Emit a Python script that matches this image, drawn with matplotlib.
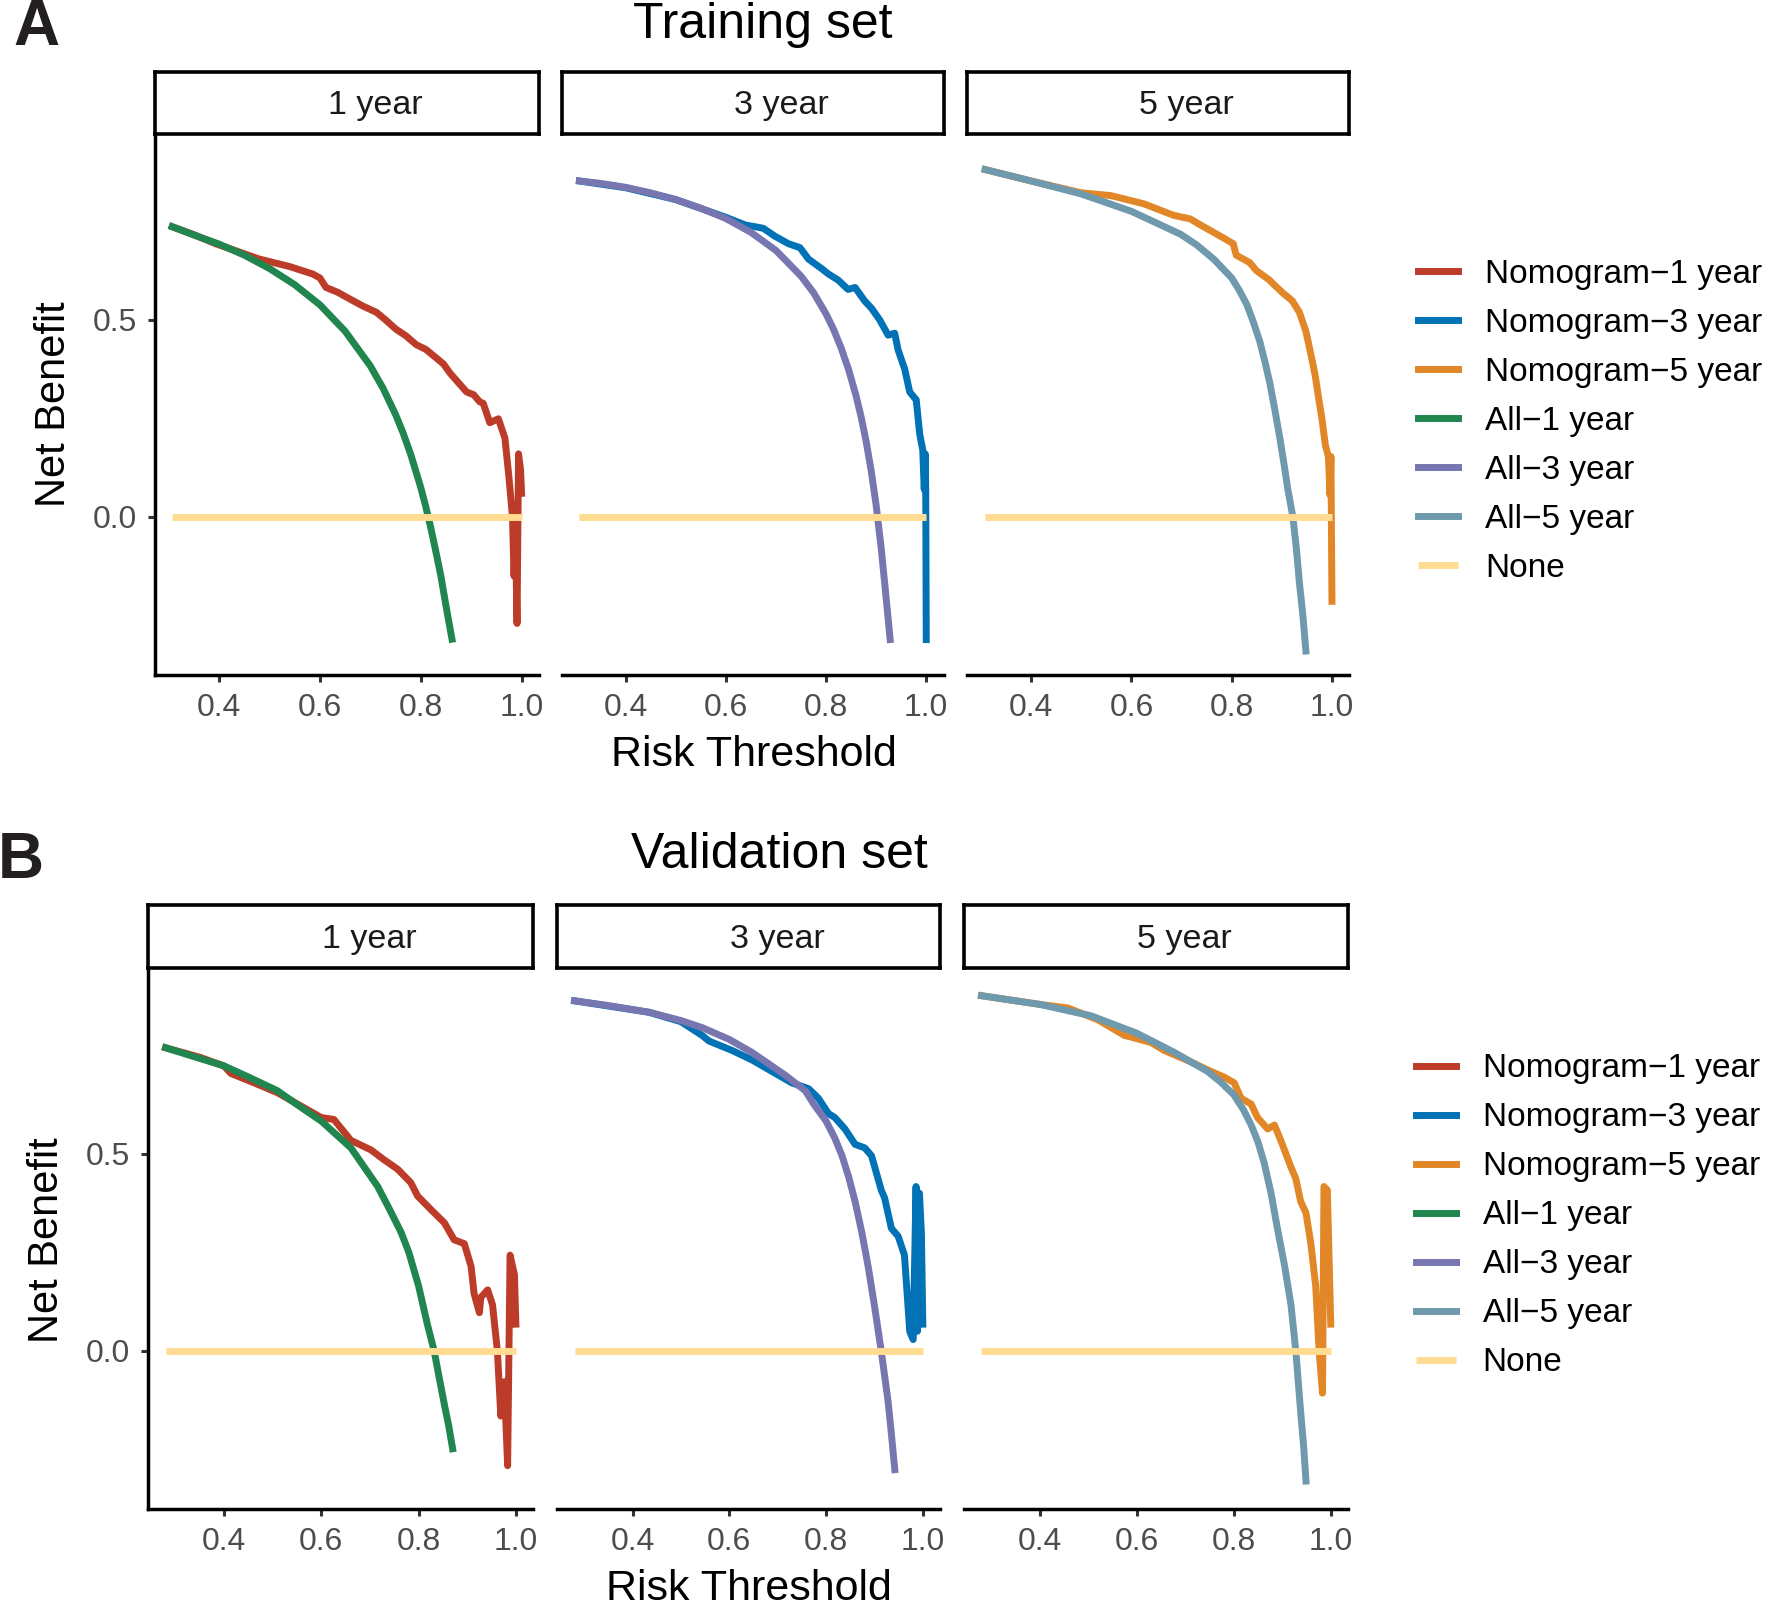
import matplotlib
matplotlib.use("Agg")
import matplotlib.pyplot as plt

plt.rcParams['font.family'] = ['Liberation Sans', 'DejaVu Sans']

# series / facet names
series_labels = ['Nomogram\u22121 year', 'Nomogram\u22123 year', 'Nomogram\u22125 year',
                 'All\u22121 year', 'All\u22123 year', 'All\u22125 year', 'None']
series_colors = ['#BC3C29', '#0072B5', '#E18727', '#20854E', '#7876B1', '#6F99AD', '#FFDC91']
facet_labels = ['1 year', '3 year', '5 year']
x_ticks = [0.4, 0.6, 0.8, 1.0]
x_ticklabels = ['0.4', '0.6', '0.8', '1.0']
y_ticks = [0.0, 0.5]
y_ticklabels = ['0.0', '0.5']

# ---------------- training set ----------------
train_nomo1_x = [0.307, 0.35, 0.393, 0.44, 0.48, 0.54, 0.586, 0.60, 0.612, 0.635, 0.659, 0.685, 0.712,
                 0.73, 0.751, 0.77, 0.791, 0.81, 0.831, 0.845, 0.858, 0.875, 0.891, 0.905, 0.917, 0.924,
                 0.937, 0.954, 0.967, 0.975, 0.982, 0.985, 0.988, 0.991, 0.994, 0.998, 1.0]
train_nomo1_y = [0.736, 0.716, 0.693, 0.672, 0.654, 0.635, 0.616, 0.606, 0.582, 0.570, 0.553, 0.535, 0.519,
                 0.500, 0.476, 0.460, 0.437, 0.425, 0.403, 0.388, 0.365, 0.340, 0.317, 0.310, 0.292, 0.288,
                 0.239, 0.249, 0.200, 0.100, 0.0, -0.15, -0.05, -0.27, 0.16, 0.12, 0.06]
train_all1_x = [0.307, 0.35, 0.40, 0.45, 0.50, 0.55, 0.60, 0.65, 0.70, 0.725, 0.75, 0.765, 0.78, 0.80,
                0.81, 0.82, 0.83, 0.84, 0.85, 0.862]
train_all1_y = [0.736, 0.715, 0.692, 0.664, 0.630, 0.589, 0.538, 0.471, 0.383, 0.327, 0.260, 0.213, 0.159,
                0.075, 0.026, -0.028, -0.088, -0.150, -0.225, -0.310]

train_nomo3_x = [0.308, 0.40, 0.50, 0.60, 0.64, 0.659, 0.675, 0.698, 0.725, 0.748, 0.765, 0.791, 0.805,
                 0.824, 0.844, 0.858, 0.877, 0.891, 0.907, 0.924, 0.937, 0.944, 0.957, 0.967, 0.980, 0.987,
                 0.993, 0.996, 0.998, 0.999, 1.0]
train_nomo3_y = [0.852, 0.835, 0.805, 0.760, 0.740, 0.736, 0.732, 0.712, 0.693, 0.683, 0.654, 0.630, 0.616,
                 0.601, 0.577, 0.582, 0.548, 0.529, 0.500, 0.461, 0.466, 0.423, 0.375, 0.317, 0.297, 0.210,
                 0.170, 0.070, 0.160, 0.060, -0.311]
train_all3_x = [0.308, 0.35, 0.40, 0.45, 0.50, 0.55, 0.60, 0.65, 0.70, 0.75, 0.775, 0.80, 0.815, 0.83,
                0.845, 0.86, 0.87, 0.88, 0.89, 0.90, 0.91, 0.918, 0.928]
train_all3_y = [0.852, 0.846, 0.836, 0.822, 0.805, 0.783, 0.757, 0.722, 0.676, 0.611, 0.569, 0.515, 0.476,
                0.429, 0.374, 0.307, 0.254, 0.192, 0.118, 0.030, -0.078, -0.180, -0.311]

train_nomo5_x = [0.308, 0.40, 0.50, 0.559, 0.625, 0.684, 0.717, 0.737, 0.783, 0.803, 0.809, 0.836, 0.849,
                 0.875, 0.882, 0.902, 0.921, 0.935, 0.948, 0.961, 0.967, 0.974, 0.980, 0.987, 0.993, 0.996,
                 0.998, 1.0]
train_nomo5_y = [0.881, 0.852, 0.822, 0.815, 0.794, 0.765, 0.756, 0.741, 0.708, 0.693, 0.664, 0.645, 0.625,
                 0.601, 0.592, 0.568, 0.548, 0.519, 0.471, 0.394, 0.355, 0.297, 0.249, 0.181, 0.153, 0.056,
                 0.153, -0.214]
train_all5_x = [0.308, 0.40, 0.50, 0.60, 0.698, 0.73, 0.764, 0.80, 0.815, 0.83, 0.843, 0.856, 0.866,
                0.876, 0.886, 0.896, 0.904, 0.912, 0.922, 0.929, 0.935, 0.942, 0.948]
train_all5_y = [0.881, 0.852, 0.819, 0.775, 0.717, 0.690, 0.654, 0.606, 0.575, 0.539, 0.495, 0.445, 0.395,
                0.340, 0.272, 0.200, 0.137, 0.070, 0.0, -0.080, -0.166, -0.250, -0.340]
train_none_x = [0.307, 1.0]
train_none_y = [0.0, 0.0]

# ---------------- validation set ----------------
val_nomo1_x = [0.28, 0.35, 0.40, 0.414, 0.462, 0.51, 0.60, 0.626, 0.661, 0.702, 0.729, 0.757, 0.784,
               0.798, 0.825, 0.853, 0.873, 0.894, 0.908, 0.914, 0.925, 0.928, 0.942, 0.952, 0.962, 0.969,
               0.976, 0.983, 0.988, 0.997, 1.0]
val_nomo1_y = [0.769, 0.745, 0.723, 0.704, 0.680, 0.655, 0.592, 0.587, 0.534, 0.510, 0.485, 0.461, 0.427,
               0.393, 0.359, 0.325, 0.282, 0.272, 0.214, 0.146, 0.097, 0.136, 0.155, 0.117, 0.0, -0.165,
               -0.078, -0.291, 0.243, 0.194, 0.068]
val_all1_x = [0.28, 0.35, 0.40, 0.45, 0.51, 0.55, 0.60, 0.661, 0.716, 0.74, 0.764, 0.78, 0.80, 0.818,
              0.832, 0.842, 0.853, 0.862, 0.87]
val_all1_y = [0.769, 0.742, 0.723, 0.695, 0.660, 0.625, 0.583, 0.515, 0.417, 0.360, 0.301, 0.250, 0.165,
              0.068, 0.0, -0.065, -0.136, -0.190, -0.248]

val_nomo3_x = [0.28, 0.434, 0.50, 0.544, 0.558, 0.606, 0.647, 0.688, 0.729, 0.764, 0.784, 0.805, 0.818,
               0.839, 0.86, 0.88, 0.894, 0.914, 0.921, 0.935, 0.949, 0.962, 0.973, 0.980, 0.986, 0.989,
               0.993, 0.997, 1.0]
val_nomo3_y = [0.888, 0.859, 0.835, 0.800, 0.786, 0.762, 0.738, 0.709, 0.680, 0.665, 0.641, 0.602, 0.592,
               0.563, 0.524, 0.515, 0.495, 0.408, 0.388, 0.311, 0.291, 0.243, 0.049, 0.029, 0.417, 0.050,
               0.400, 0.300, 0.068]
val_all3_x = [0.28, 0.35, 0.434, 0.50, 0.544, 0.60, 0.647, 0.716, 0.757, 0.775, 0.80, 0.818, 0.833, 0.847,
              0.86, 0.874, 0.887, 0.90, 0.914, 0.928, 0.935, 0.942]
val_all3_y = [0.888, 0.876, 0.859, 0.838, 0.820, 0.790, 0.757, 0.699, 0.660, 0.625, 0.583, 0.540, 0.495,
              0.440, 0.379, 0.300, 0.214, 0.115, 0.0, -0.126, -0.210, -0.301]

val_nomo5_x = [0.28, 0.40, 0.458, 0.52, 0.575, 0.589, 0.63, 0.657, 0.712, 0.753, 0.781, 0.801, 0.815,
               0.836, 0.849, 0.87, 0.884, 0.897, 0.918, 0.928, 0.938, 0.949, 0.959, 0.969, 0.976, 0.983,
               0.986, 0.993, 0.997, 1.0]
val_nomo5_y = [0.901, 0.879, 0.870, 0.840, 0.800, 0.796, 0.782, 0.762, 0.733, 0.709, 0.694, 0.680, 0.641,
               0.626, 0.592, 0.563, 0.573, 0.534, 0.466, 0.437, 0.379, 0.350, 0.272, 0.165, 0.0, -0.107,
               0.417, 0.408, 0.214, 0.068]
val_all5_x = [0.28, 0.40, 0.506, 0.60, 0.678, 0.746, 0.773, 0.80, 0.82, 0.836, 0.85, 0.863, 0.877, 0.89,
              0.905, 0.918, 0.928, 0.938, 0.944, 0.949]
val_all5_y = [0.901, 0.879, 0.850, 0.806, 0.757, 0.709, 0.682, 0.650, 0.612, 0.573, 0.530, 0.476, 0.400,
              0.311, 0.215, 0.117, 0.0, -0.155, -0.240, -0.330]
val_none_x = [0.28, 1.0]
val_none_y = [0.0, 0.0]

# layout helpers (reference measured on a 1568 x 1422 grid)
W, H = 1568.0, 1422.0
def fx(x):
    return x / W
def fy(y):
    return 1 - y / H

LW = 5.0
fig = plt.figure(figsize=(17.72, 16.07), dpi=100)


def draw_set(nomo, treat_all, none, xlim, lefts, rights, top, bottom, strip_top):
    nomo_h, all_h = [], []
    none_h = None
    for i in range(3):
        ax = fig.add_axes([fx(lefts[i]), fy(bottom), fx(rights[i]) - fx(lefts[i]), fy(top) - fy(bottom)])
        h1, = ax.plot(nomo[i][0], nomo[i][1], color=series_colors[i], lw=LW)
        h2, = ax.plot(treat_all[i][0], treat_all[i][1], color=series_colors[3 + i], lw=LW)
        h3, = ax.plot(none[0], none[1], color=series_colors[6], lw=LW, solid_capstyle='butt')
        nomo_h.append(h1)
        all_h.append(h2)
        none_h = h3
        ax.set_xlim(xlim)
        ax.set_ylim(-0.40, 0.97)
        ax.set_xticks(x_ticks)
        ax.set_xticklabels(x_ticklabels)
        for s in ['top', 'right']:
            ax.spines[s].set_visible(False)
        for s in ['left', 'bottom']:
            ax.spines[s].set_linewidth(2.5)
            ax.spines[s].set_color('black')
        ax.tick_params(axis='both', length=5, width=2.2, color='#333333', labelsize=23,
                       labelcolor='#4D4D4D', pad=8)
        if i == 0:
            ax.set_yticks(y_ticks)
            ax.set_yticklabels(y_ticklabels)
        else:
            ax.spines['left'].set_visible(False)
            ax.set_yticks([])

        # facet strip
        st = fig.add_axes([fx(lefts[i]), fy(top), fx(rights[i]) - fx(lefts[i]), fy(strip_top) - fy(top)])
        st.set_xticks([])
        st.set_yticks([])
        for s in st.spines.values():
            s.set_linewidth(2.6)
            s.set_color('black')
        st.text(fx((lefts[i] + rights[i]) / 2 + 25), fy((top + strip_top) / 2 + 2), facet_labels[i],
                ha='center', va='center', fontsize=24.5, color='#1A1A1A', transform=fig.transFigure)
    return nomo_h + all_h + [none_h]


# ---- A: training set ----
hA = draw_set([(train_nomo1_x, train_nomo1_y), (train_nomo3_x, train_nomo3_y), (train_nomo5_x, train_nomo5_y)],
              [(train_all1_x, train_all1_y), (train_all3_x, train_all3_y), (train_all5_x, train_all5_y)],
              (train_none_x, train_none_y), (0.2725, 1.0347),
              [137, 497, 856], [477, 835, 1194], 119, 597, 64)
fig.text(fx(32), fy(25), 'A', fontsize=46, fontweight='bold', ha='center', va='center', color='#231F20')
fig.text(fx(675), fy(22), 'Training set', fontsize=36, ha='center', va='center')
fig.text(fx(48), fy(358), 'Net Benefit', fontsize=30, rotation=90, ha='center', va='center')
fig.text(fx(667), fy(668), 'Risk Threshold', fontsize=31, ha='center', va='center')
fig.legend(hA, series_labels, loc='upper left', bbox_to_anchor=(fx(1255), fy(229)), frameon=False,
           fontsize=24, handlelength=1.2, handletextpad=0.8, labelspacing=0.54, borderpad=0,
           borderaxespad=0)

# ---- B: validation set ----
hB = draw_set([(val_nomo1_x, val_nomo1_y), (val_nomo3_x, val_nomo3_y), (val_nomo5_x, val_nomo5_y)],
              [(val_all1_x, val_all1_y), (val_all3_x, val_all3_y), (val_all5_x, val_all5_y)],
              (val_none_x, val_none_y), (0.244, 1.036),
              [131, 493, 853], [472, 832, 1193], 857, 1335, 801)
fig.text(fx(18), fy(762), 'B', fontsize=46, fontweight='bold', ha='center', va='center', color='#231F20')
fig.text(fx(690), fy(757), 'Validation set', fontsize=36, ha='center', va='center')
fig.text(fx(42), fy(1097), 'Net Benefit', fontsize=30, rotation=90, ha='center', va='center')
fig.text(fx(663), fy(1406), 'Risk Threshold', fontsize=31, ha='center', va='center')
fig.legend(hB, series_labels, loc='upper left', bbox_to_anchor=(fx(1253), fy(932)), frameon=False,
           fontsize=24, handlelength=1.2, handletextpad=0.8, labelspacing=0.54, borderpad=0,
           borderaxespad=0)

fig.savefig('out.png', dpi=100)
